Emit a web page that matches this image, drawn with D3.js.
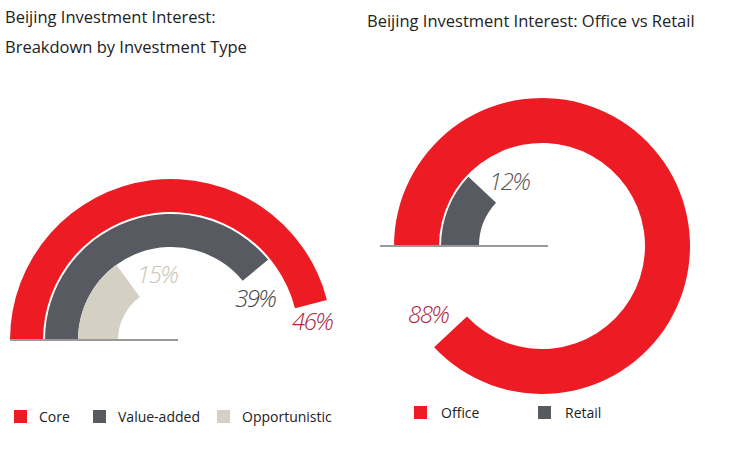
<!DOCTYPE html><html><head><meta charset="utf-8">
<script src="https://cdn.jsdelivr.net/npm/d3@7"></script>
<style>body{margin:0;background:#fff}text{font-family:"Open Sans",sans-serif}</style></head><body>
<svg id="c" width="732" height="452"></svg>
<script>
const typeCats=["Core","Value-added","Opportunistic"];
const typeVals=[46,39,15];
const sectorCats=["Office","Retail"];
const sectorVals=[88,12];
const colors={"Core":"#ed1c24","Value-added":"#575a61","Opportunistic":"#d4d0c3","Office":"#ed1c24","Retail":"#575a61"};
const labColors={"Core":"#b0243a","Value-added":"#444","Opportunistic":"#c8c4b6","Office":"#b0243a","Retail":"#555"};
const svg=d3.select("#c");
const ang=d3.scaleLinear().domain([0,100]).range([-Math.PI/2,1.5*Math.PI]);
function ring(cx,cy,cats,vals,radii,labPos){
  const g=svg.append("g").attr("transform",`translate(${cx},${cy})`);
  cats.forEach((c,i)=>{
    g.append("path").attr("d",d3.arc()({innerRadius:radii[i][0],outerRadius:radii[i][1],startAngle:ang(0),endAngle:ang(vals[i])})).attr("fill",colors[c]);
  });
  return g;
}
// left
const gl=ring(171,340,typeCats,typeVals,[[128,161],[93,126],[53,93]]);
svg.append("line").attr("x1",10).attr("x2",178).attr("y1",340).attr("y2",340).attr("stroke","#999").attr("stroke-width",2);
// right
const gr=ring(542,246,sectorCats,sectorVals,[[103,148],[63,101]]);
svg.append("line").attr("x1",380).attr("x2",548).attr("y1",246).attr("y2",246).attr("stroke","#999").attr("stroke-width",2);
// labels
const labs=[["Opportunistic",typeVals[2],137,283],["Value-added",typeVals[1],235,307],["Core",typeVals[0],292,330],["Retail",sectorVals[1],489,190],["Office",sectorVals[0],408,323]];
labs.forEach(([c,v,x,y])=>svg.append("text").attr("x",x).attr("y",y).attr("font-size",24).attr("font-style","italic").attr("font-weight",300).attr("font-family","'DejaVu Sans', sans-serif").attr("fill",labColors[c]).attr("textLength",42).text(v+"%"));
// titles
svg.append("text").attr("x",5).attr("y",23).attr("font-size",16.5).attr("fill","#222").text("Beijing Investment Interest:");
svg.append("text").attr("x",5).attr("y",53).attr("font-size",16.5).attr("fill","#222").text("Breakdown by Investment Type");
svg.append("text").attr("x",367).attr("y",27).attr("font-size",16.5).attr("fill","#222").text("Beijing Investment Interest: Office vs Retail");
// legends
const lx=[14,93,217];
typeCats.forEach((c,i)=>{svg.append("rect").attr("x",lx[i]).attr("y",410).attr("width",13).attr("height",13).attr("fill",colors[c]);
 svg.append("text").attr("x",lx[i]+25).attr("y",422).attr("font-size",14).attr("fill","#222").text(c);});
const rx=[414,538];
sectorCats.forEach((c,i)=>{svg.append("rect").attr("x",rx[i]).attr("y",406).attr("width",13).attr("height",13).attr("fill",colors[c]);
 svg.append("text").attr("x",rx[i]+27).attr("y",418).attr("font-size",14).attr("fill","#222").text(c);});
</script></body></html>
